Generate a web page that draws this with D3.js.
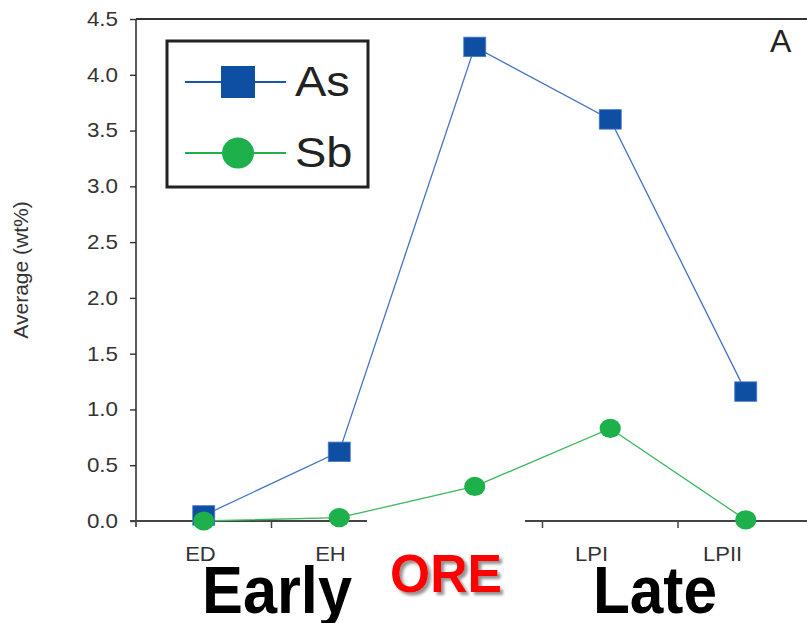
<!DOCTYPE html>
<html>
<head>
<meta charset="utf-8">
<script src="https://cdn.jsdelivr.net/npm/d3@7"></script>
<style>
  body { margin: 0; background: #fff; }
  svg { display: block; font-family: "Liberation Sans", Arial, sans-serif; }
</style>
</head>
<body>
<svg id="chart" width="807" height="623"></svg>
<script>
// stages (middle one is the ore stage, no tick label)
var stages = ['ED', 'EH', 'ORE', 'LPI', 'LPII'];
var stageLabels = ['ED', 'EH', '', 'LPI', 'LPII'];
var asValues = [0.05, 0.62, 4.25, 3.60, 1.16];
var sbValues = [0.00, 0.03, 0.31, 0.83, 0.01];
var yTicks = [0, 0.5, 1, 1.5, 2, 2.5, 3, 3.5, 4, 4.5];
var seriesNames = ['As', 'Sb'];

var svg = d3.select('#chart');

var x = d3.scaleBand().domain(stages).range([136, 813.5]);
var y = d3.scaleLinear().domain([0, 4.5]).range([521, 19]);
var cx = function(d, i) { return x(stages[i]) + x.bandwidth() / 2; };

// the source figure is stretched sideways a bit, text too
function stretch(sel, sx) {
  sel.each(function() {
    var t = d3.select(this);
    var ox = +(t.attr('x') || 0);
    t.attr('x', ox / sx).attr('transform', 'scale(' + sx + ',1)');
  });
}

// shadow for the ORE label
var defs = svg.append('defs');
var f = defs.append('filter').attr('id', 'shadow').attr('x', '-20%').attr('y', '-20%').attr('width', '150%').attr('height', '150%');
f.append('feDropShadow').attr('dx', 3).attr('dy', 3).attr('stdDeviation', 1.6)
  .attr('flood-color', '#777').attr('flood-opacity', 0.8);

// top frame line
svg.append('line')
  .attr('x1', 136).attr('x2', 807).attr('y1', y(4.5)).attr('y2', y(4.5))
  .attr('stroke', '#333').attr('stroke-width', 2);

// y axis
var yAxis = svg.append('g')
  .attr('transform', 'translate(136,0)')
  .call(d3.axisLeft(y).tickValues(yTicks).tickFormat(d3.format('.1f')).tickSize(6).tickSizeOuter(0).tickPadding(12));
yAxis.select('.domain').attr('stroke', '#333').attr('stroke-width', 1.6).attr('d', 'M0,19V527');
yAxis.selectAll('.tick line').attr('stroke', '#333').attr('stroke-width', 1.4);
yAxis.selectAll('.tick text').attr('font-size', 20).attr('fill', '#333')
  .attr('font-family', '"Liberation Sans", Arial, sans-serif');
stretch(yAxis.selectAll('.tick text'), 1.12);

// x axis, ticks sit between stages
var xAxis = svg.append('g')
  .attr('transform', 'translate(0,' + y(0) + ')')
  .call(d3.axisBottom(x).tickSize(0).tickFormat(function(d, i) { return stageLabels[i]; }).tickPadding(26));
xAxis.select('.domain').attr('stroke', '#444').attr('stroke-width', 2).attr('d', 'M130,0H807');
xAxis.selectAll('.tick text').attr('font-size', 20).attr('fill', '#333')
  .attr('font-family', '"Liberation Sans", Arial, sans-serif')
  .attr('dx', function(d, i) { return [-3, -8, 0, -17, -21][i]; });
stretch(xAxis.selectAll('.tick text'), 1.1);
xAxis.selectAll('.bound')
  .data(stages.slice(1))
  .enter().append('line')
  .attr('x1', function(d) { return x(d); }).attr('x2', function(d) { return x(d); })
  .attr('y1', 0).attr('y2', 7)
  .attr('stroke', '#444').attr('stroke-width', 1.5);

// break in the axis under the ore column
svg.append('rect')
  .attr('x', 367).attr('y', y(0) - 6).attr('width', 158).attr('height', 16)
  .attr('fill', '#fff');

// lines
var line = d3.line().x(function(d, i) { return cx(d, i); }).y(function(d) { return y(d); });
svg.append('path').datum(asValues).attr('d', line)
  .attr('fill', 'none').attr('stroke', '#4472c4').attr('stroke-width', 1.3);
svg.append('path').datum(sbValues).attr('d', line)
  .attr('fill', 'none').attr('stroke', '#3cb95c').attr('stroke-width', 1.3);

// markers
svg.selectAll('.sq').data(asValues).enter().append('rect')
  .attr('x', function(d, i) { return cx(d, i) - 11; })
  .attr('y', function(d) { return y(d) - 9.75; })
  .attr('width', 22).attr('height', 19.5)
  .attr('fill', '#0f4fa3').attr('stroke', '#4a7bc8').attr('stroke-width', 0.8);
svg.selectAll('.dot').data(sbValues).enter().append('ellipse')
  .attr('cx', function(d, i) { return cx(d, i); })
  .attr('cy', function(d) { return y(d); })
  .attr('rx', 10.6).attr('ry', 9.6)
  .attr('fill', '#1db04b');

// legend
var lg = svg.append('g');
lg.append('rect').attr('x', 167).attr('y', 41).attr('width', 201).attr('height', 146)
  .attr('fill', '#fff').attr('stroke', '#222').attr('stroke-width', 3);
lg.append('line').attr('x1', 185).attr('x2', 286).attr('y1', 82).attr('y2', 82)
  .attr('stroke', '#1a56b0').attr('stroke-width', 2.2);
lg.append('rect').attr('x', 221).attr('y', 66).attr('width', 34).attr('height', 32)
  .attr('fill', '#0f4fa3');
lg.append('line').attr('x1', 185).attr('x2', 286).attr('y1', 153).attr('y2', 153)
  .attr('stroke', '#1db04b').attr('stroke-width', 2.2);
lg.append('ellipse').attr('cx', 238).attr('cy', 153).attr('rx', 16).attr('ry', 15.5)
  .attr('fill', '#1db04b');
lg.selectAll('.lab').data(seriesNames).enter().append('text')
  .attr('x', 295).attr('y', function(d, i) { return [96, 167][i]; })
  .attr('font-size', 42).attr('fill', '#222')
  .text(function(d) { return d; })
  .call(stretch, 1.12);

// panel letter
svg.append('text').attr('x', 770).attr('y', 52)
  .attr('font-size', 32).attr('fill', '#222').text('A');

// y title
svg.append('text')
  .attr('transform', 'translate(28,270) rotate(-90)')
  .attr('text-anchor', 'middle')
  .attr('font-size', 21).attr('fill', '#333')
  .text('Average (wt%)');

// stage group labels
svg.append('text').attr('x', 202).attr('y', 613)
  .attr('font-size', 66).attr('font-weight', 'bold').attr('fill', '#000')
  .attr('textLength', 150).attr('lengthAdjust', 'spacingAndGlyphs')
  .text('Early');
svg.append('text').attr('x', 593).attr('y', 613)
  .attr('font-size', 66).attr('font-weight', 'bold').attr('fill', '#000')
  .attr('textLength', 124).attr('lengthAdjust', 'spacingAndGlyphs')
  .text('Late');
svg.append('text').attr('x', 390).attr('y', 592)
  .attr('font-size', 54).attr('font-weight', 'bold').attr('fill', '#ff0000')
  .attr('textLength', 112).attr('lengthAdjust', 'spacingAndGlyphs')
  .attr('filter', 'url(#shadow)')
  .text('ORE');
</script>
</body>
</html>
